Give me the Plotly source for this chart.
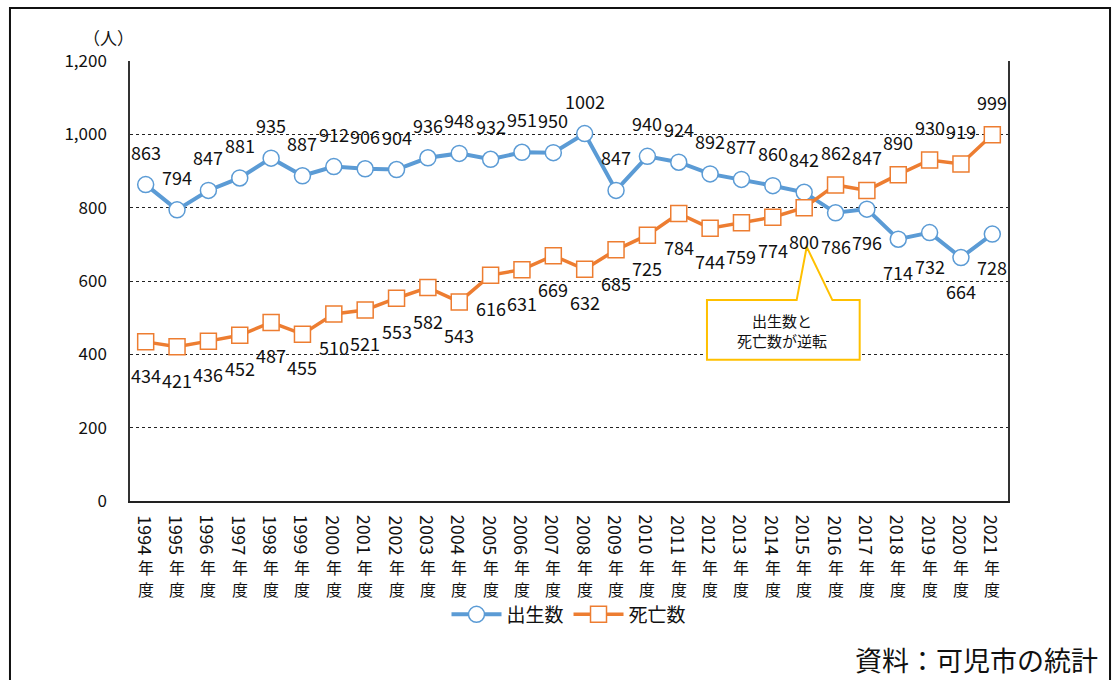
import plotly.graph_objects as go

years = list(range(1994, 2022))
births = [863, 794, 847, 881, 935, 887, 912, 906, 904, 936, 948, 932, 951, 950,
          1002, 847, 940, 924, 892, 877, 860, 842, 786, 796, 714, 732, 664, 728]
deaths = [434, 421, 436, 452, 487, 455, 510, 521, 553, 582, 543, 616, 631, 669,
          632, 685, 725, 784, 744, 759, 774, 800, 862, 847, 890, 930, 919, 999]
series_names = ["出生数", "死亡数"]
y_ticks = [0, 200, 400, 600, 800, 1000, 1200]

BLUE = "#5B9BD5"
ORANGE = "#ED7D31"
FONT = "Noto Sans CJK JP, Noto Sans, sans-serif"

fig = go.Figure()
fig.add_trace(go.Scatter(
    x=years, y=births, name=series_names[0], mode="lines+markers",
    line=dict(color=BLUE, width=4),
    marker=dict(symbol="circle", size=16, color="white", line=dict(color=BLUE, width=1.5)),
))
fig.add_trace(go.Scatter(
    x=years, y=deaths, name=series_names[1], mode="lines+markers",
    line=dict(color=ORANGE, width=3.5),
    marker=dict(symbol="square", size=16, color="white", line=dict(color=ORANGE, width=1.5)),
))

annotations = []
# data labels: the larger value of each year is labelled above, the smaller below
for yr, b, d in zip(years, births, deaths):
    b_above = b >= d
    annotations.append(dict(x=yr, y=b, text=str(b), showarrow=False,
                            yshift=33 if b_above else -33,
                            font=dict(size=18, color="#111", family=FONT)))
    annotations.append(dict(x=yr, y=d, text=str(d), showarrow=False,
                            yshift=-33 if b_above else 33,
                            font=dict(size=18, color="#111", family=FONT)))

# category labels: rotated digits then upright 年 / 度
for yr in years:
    annotations.append(dict(x=yr, y=0, xref="x", yref="paper", text=str(yr),
                            textangle=90, showarrow=False, yanchor="middle",
                            yshift=-34, font=dict(size=18, color="#111", family=FONT)))
    annotations.append(dict(x=yr, y=0, xref="x", yref="paper", text="年",
                            showarrow=False, yanchor="middle", yshift=-66,
                            font=dict(size=16, color="#111", family=FONT)))
    annotations.append(dict(x=yr, y=0, xref="x", yref="paper", text="度",
                            showarrow=False, yanchor="middle", yshift=-88,
                            font=dict(size=16, color="#111", family=FONT)))

# unit label
annotations.append(dict(x=-0.025, y=1.0545, xref="paper", yref="paper", text="（人）",
                        showarrow=False, xanchor="center", yanchor="middle",
                        font=dict(size=17, color="#111", family=FONT)))
# source
annotations.append(dict(x=1.105, y=-0.36, xref="paper", yref="paper",
                        text="資料：可児市の統計", showarrow=False,
                        xanchor="right", yanchor="middle",
                        font=dict(size=27, color="#111", family=FONT)))
# callout text
annotations.append(dict(x=2014.3, y=466, text="出生数と<br>死亡数が逆転", showarrow=False,
                        xanchor="center", yanchor="middle",
                        font=dict(size=15, color="#111", family=FONT)))

shapes = [
    # outer frame
    dict(type="rect", xref="paper", yref="paper", x0=-0.1367, x1=1.1162, y0=-0.45, y1=1.1205,
         line=dict(color="#111", width=2), fillcolor="rgba(0,0,0,0)", layer="below"),
    # callout
    dict(type="path", xref="x", yref="y",
         path="M 2011.9,385 L 2016.77,385 L 2016.77,548 L 2015.9,548 L 2015.08,693 "
              "L 2014.76,548 L 2011.9,548 Z",
         line=dict(color="#FFC000", width=2), fillcolor="white", layer="above"),
]

fig.update_layout(
    width=1115, height=680,
    margin=dict(l=130, r=107, t=61, b=179, autoexpand=False),
    paper_bgcolor="white", plot_bgcolor="white",
    font=dict(family=FONT, color="#111"),
    showlegend=True,
    legend=dict(orientation="h", x=0.5, xanchor="center", y=-0.258, yanchor="middle",
                font=dict(size=19, family=FONT), itemwidth=50, bgcolor="rgba(0,0,0,0)"),
    annotations=annotations,
    shapes=shapes,
)
fig.update_xaxes(range=[1993.5, 2021.5], showticklabels=False, showgrid=False,
                 zeroline=False, showline=True, linecolor="#222", linewidth=1.5,
                 ticks="")
fig.update_yaxes(range=[0, 1200], tickvals=y_ticks, tickformat=",",
                 showgrid=True, gridcolor="#222", griddash="dot", gridwidth=1,
                 zeroline=False, showline=True, mirror=True, linecolor="#333", linewidth=1.5,
                 ticks="", ticklabelstandoff=18,
                 tickfont=dict(size=17, family=FONT, color="#111"))

fig.write_html("out.html", config={"displayModeBar": False},
               post_script="document.body.style.margin='0';document.body.style.overflow='hidden';")
